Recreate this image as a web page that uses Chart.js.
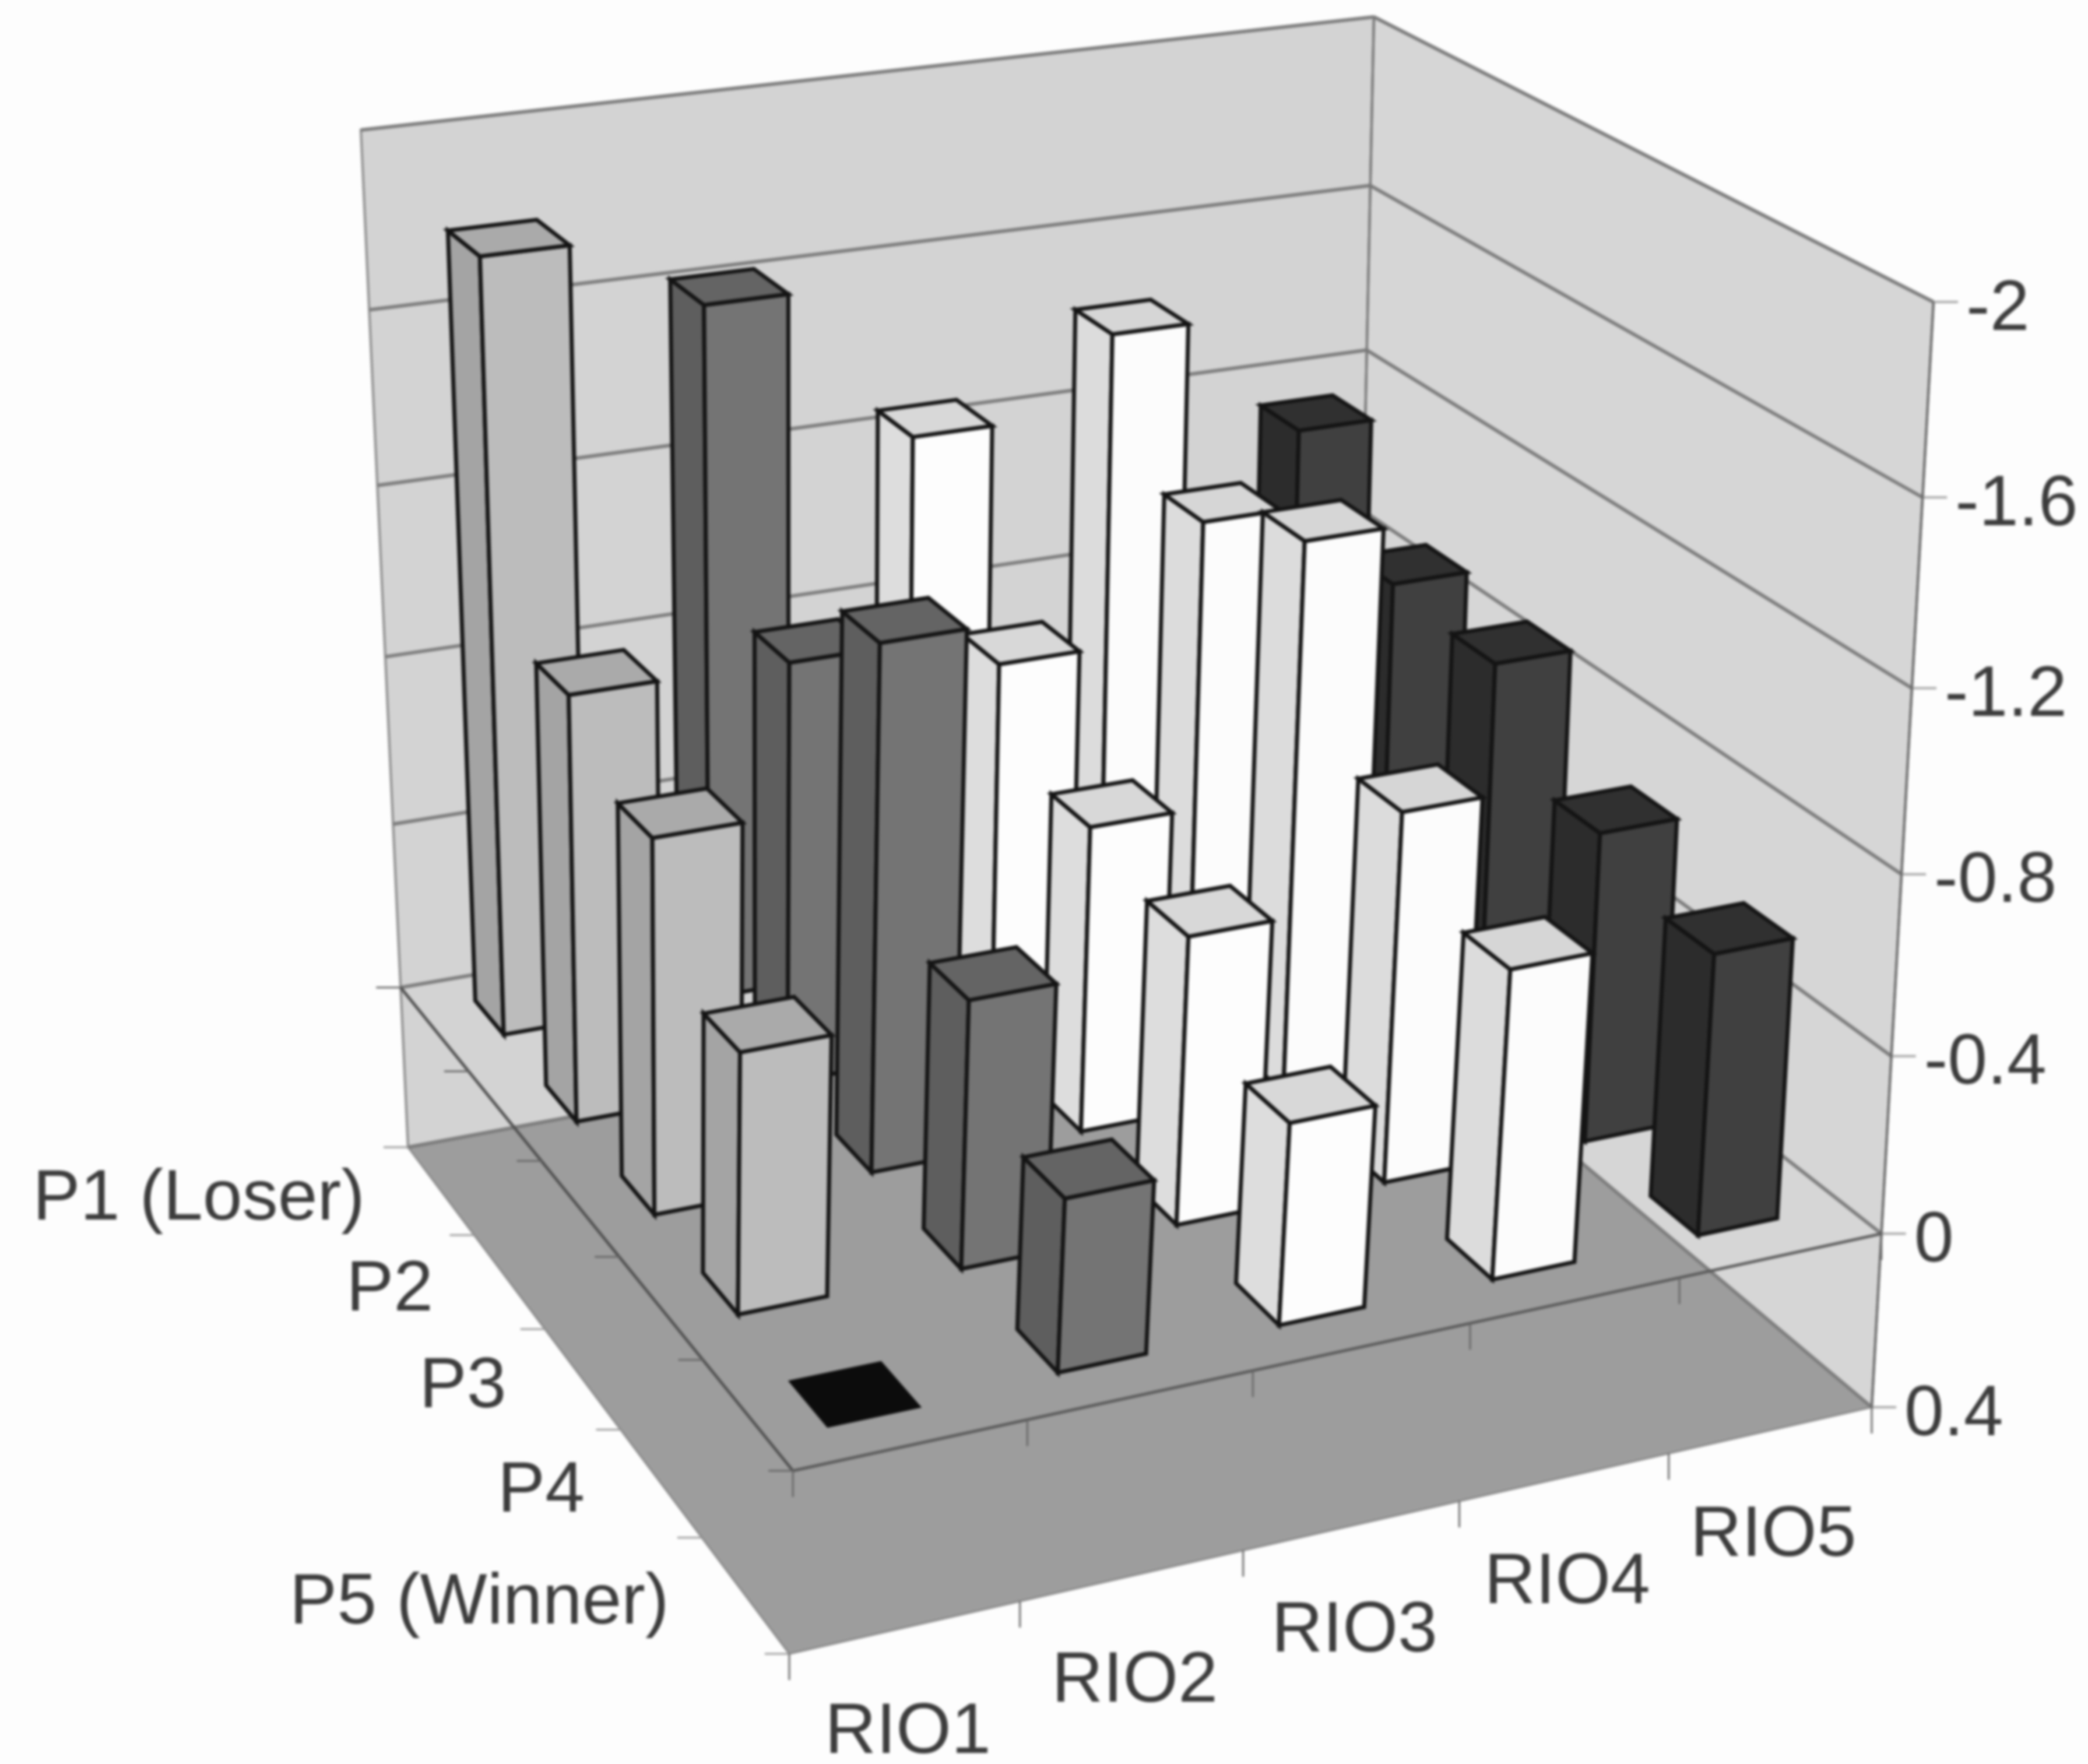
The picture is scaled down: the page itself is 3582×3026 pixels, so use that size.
<!DOCTYPE html>
<html>
<head>
<meta charset="utf-8">
<title>RIO by player position</title>
<script src="https://cdn.jsdelivr.net/npm/chart.js@4"></script>
<style>
	html, body { margin: 0; padding: 0; background: #fdfdfd; }
	canvas { display: block; filter: blur(2px); }
</style>
</head>
<body>
<canvas id="chart3d" width="3582" height="3026"></canvas>
<script>
var rioLabels = ["RIO1", "RIO2", "RIO3", "RIO4", "RIO5"];
var posLabels = ["P1 (Loser)", "P2", "P3", "P4", "P5 (Winner)"];
var valueTicks = [-2, -1.6, -1.2, -0.8, -0.4, 0, 0.4];

// one value per position, P1 first
var rio1 = [-1.8, -0.985, -0.85, -0.58, 0.01];
var rio2 = [-1.63, -0.98, -1.195, -0.6, -0.38];
var rio3 = [-1.265, -0.9, -0.705, -0.65, -0.445];
var rio4 = [-1.44, -1.155, -1.27, -0.84, -0.685];
var rio5 = [-1.15, -0.94, -0.92, -0.71, -0.63];

// front, side, top
var rioColors = [
	["#bcbcbc", "#a4a4a4", "#aaaaaa"],
	["#747474", "#5e5e5e", "#646464"],
	["#fdfdfd", "#dddddd", "#d8d8d8"],
	["#fcfcfc", "#dcdcdc", "#d6d6d6"],
	["#404040", "#2c2c2c", "#303030"]
];

// where the box of the plot lands on the page: back left, back, right, front left
var floorQuad = [[700, 1968], [2322, 1665], [3211, 2414], [1354, 2837]];
var roofQuad = [[619, 223], [2357, 29], [3317, 518], [1394, 837]];
var heightBend = 1.074; // perspective along the value axis

// bar footprint inside its cell
var barLeft = 0.27, barRight = 0.665, barBack = 0.28, barFront = 0.69;

var _quadMap = function (q) {
	var dx1 = q[1][0] - q[2][0], dx2 = q[3][0] - q[2][0], sx = q[0][0] - q[1][0] + q[2][0] - q[3][0];
	var dy1 = q[1][1] - q[2][1], dy2 = q[3][1] - q[2][1], sy = q[0][1] - q[1][1] + q[2][1] - q[3][1];
	var den = dx1 * dy2 - dx2 * dy1;
	var g = (sx * dy2 - dx2 * sy) / den;
	var h = (dx1 * sy - sx * dy1) / den;
	var a = q[1][0] - q[0][0] + g * q[1][0], b = q[3][0] - q[0][0] + h * q[3][0], c = q[0][0];
	var d = q[1][1] - q[0][1] + g * q[1][1], e = q[3][1] - q[0][1] + h * q[3][1], f = q[0][1];
	return function (u, v) {
		var w = g * u + h * v + 1;
		return [(a * u + b * v + c) / w, (d * u + e * v + f) / w];
	};
};
var floorAt = _quadMap(floorQuad);
var roofAt = _quadMap(roofQuad);

var _frac = function (scale, value) {
	return scale.getDecimalForPixel(scale.getPixelForValue(value));
};

// rio and pos run 0..5 along their scales, val is a chart value
var _project = function (chart, rio, pos, val) {
	var u = _frac(chart.scales.x, rio);
	var v = _frac(chart.scales.p, pos);
	var t = 1 - _frac(chart.scales.y, val);
	t = t / (t + (1 - t) * heightBend);
	var a = floorAt(u, v), b = roofAt(u, v);
	return [a[0] + (b[0] - a[0]) * t, a[1] + (b[1] - a[1]) * t];
};

var _poly = function (ctx, pts, fill, stroke, width) {
	ctx.beginPath();
	ctx.moveTo(pts[0][0], pts[0][1]);
	for (var i = 1; i < pts.length; i++) ctx.lineTo(pts[i][0], pts[i][1]);
	ctx.closePath();
	if (fill) { ctx.fillStyle = fill; ctx.fill(); }
	if (stroke) { ctx.strokeStyle = stroke; ctx.lineWidth = width; ctx.stroke(); }
};

var _line = function (ctx, a, b, color, width) {
	ctx.beginPath();
	ctx.moveTo(a[0], a[1]);
	ctx.lineTo(b[0], b[1]);
	ctx.strokeStyle = color;
	ctx.lineWidth = width;
	ctx.stroke();
};

var drawBox = function (chart) {
	var ctx = chart.ctx;
	var P = function (r, p, v) { return _project(chart, r, p, v); };
	var top = valueTicks[0], low = valueTicks[valueTicks.length - 1];

	// walls
	_poly(ctx, [P(0, 0, top), P(5, 0, top), P(5, 0, low), P(0, 0, low)], "#d3d3d3", "#8c8c8c", 4);
	_poly(ctx, [P(5, 0, top), P(5, 5, top), P(5, 5, low), P(5, 0, low)], "#d6d6d6", "#8c8c8c", 4);
	// floor
	_poly(ctx, [P(0, 0, low), P(5, 0, low), P(5, 5, low), P(0, 5, low)], "#9d9d9d", "#868686", 3);

	// gridlines on the walls
	valueTicks.forEach(function (val) {
		_line(ctx, P(0, 0, val), P(5, 0, val), "#7c7c7c", 6);
		_line(ctx, P(5, 0, val), P(5, 5, val), "#7c7c7c", 6);
		var end = P(5, 5, val);
		_line(ctx, end, [end[0] + 42, end[1]], "#aaaaaa", 4);
	});
	_line(ctx, P(5, 0, top), P(5, 0, low), "#777777", 4);
	_line(ctx, P(5, 5, top), P(5, 5, low), "#666666", 4);

	// the value 0 plane edges
	_line(ctx, P(0, 0, 0), P(0, 5, 0), "#505050", 5);
	_line(ctx, P(0, 5, 0), P(5, 5, 0), "#5a5a5a", 5);

	// ticks
	[0, low].forEach(function (val) {
		for (var j = 0; j <= posLabels.length; j++) {
			var a = P(0, j, val);
			_line(ctx, a, [a[0] - 42, a[1]], val === 0 ? "#666666" : "#9a9a9a", 3);
		}
		for (var i = 0; i <= rioLabels.length; i++) {
			var b = P(i, 5, val);
			_line(ctx, b, [b[0], b[1] + 45], "#666666", 3);
		}
	});
};

var drawBar = function (chart, rio, pos, val) {
	var ctx = chart.ctx;
	var left = rio + barLeft, right = rio + barRight;
	var back = pos + barBack, front = pos + barFront;
	var P = function (r, p, v) { return _project(chart, r, p, v); };
	var colors = rioColors[rio];
	var line = "#141414";
	if (val > -0.05) { // too short to see, ends up a black patch
		_poly(ctx, [P(left, back, val), P(right, back, val), P(right, front, val), P(left, front, val)], "#0c0c0c", "#0c0c0c", 4);
		return;
	}
	_poly(ctx, [P(left, back, 0), P(left, front, 0), P(left, front, val), P(left, back, val)], colors[1], line, 7);
	_poly(ctx, [P(left, front, 0), P(right, front, 0), P(right, front, val), P(left, front, val)], colors[0], line, 7);
	_poly(ctx, [P(left, back, val), P(right, back, val), P(right, front, val), P(left, front, val)], colors[2], line, 7);
};

var drawLabels = function (chart) {
	var ctx = chart.ctx;
	var low = valueTicks[valueTicks.length - 1];
	ctx.font = "122px 'Liberation Sans', Arial, sans-serif";
	ctx.fillStyle = "#3c3c3c";
	ctx.textBaseline = "middle";

	ctx.textAlign = "left";
	valueTicks.forEach(function (val) {
		var a = _project(chart, 5, 5, val);
		ctx.fillText(String(val), a[0] + 56, a[1] + 14);
	});
	ctx.textAlign = "center";
	rioLabels.forEach(function (name, i) {
		var a = _project(chart, i + 0.5, 5, low);
		ctx.fillText(name, a[0] + 4, a[1] + 182);
	});
	ctx.textAlign = "right";
	posLabels.forEach(function (name, j) {
		var a = _project(chart, 0, j + 0.5, low);
		ctx.fillText(name, a[0] - 130, a[1] + 16);
	});
};

var box3d = {
	id: "box3d",
	afterDatasetsDraw: function (chart) {
		drawBox(chart);
		// back row first, and right to left along each row
		for (var j = 0; j < posLabels.length; j++) {
			for (var i = rioLabels.length - 1; i >= 0; i--) {
				var item = chart.data.datasets[i].data[j];
				drawBar(chart, item.x, item.p, item.y);
			}
		}
		drawLabels(chart);
	}
};

var _series = function (name, values, rio) {
	return {
		label: name,
		pointRadius: 0,
		showLine: false,
		data: values.map(function (v, j) { return { x: rio, y: v, p: j }; })
	};
};

window.addEventListener("load", function () {
	new Chart(document.getElementById("chart3d"), {
		type: "scatter",
		data: {
			datasets: [
				_series(rioLabels[0], rio1, 0),
				_series(rioLabels[1], rio2, 1),
				_series(rioLabels[2], rio3, 2),
				_series(rioLabels[3], rio4, 3),
				_series(rioLabels[4], rio5, 4)
			]
		},
		options: {
			responsive: false,
			animation: false,
			plugins: { legend: { display: false }, tooltip: { enabled: false } },
			scales: {
				x: { type: "linear", min: 0, max: rioLabels.length, display: false },
				p: { type: "linear", axis: "x", position: "bottom", min: 0, max: posLabels.length, display: false },
				y: { type: "linear", min: valueTicks[0], max: valueTicks[valueTicks.length - 1], reverse: true, display: false }
			}
		},
		plugins: [box3d]
	});
});
</script>
</body>
</html>
